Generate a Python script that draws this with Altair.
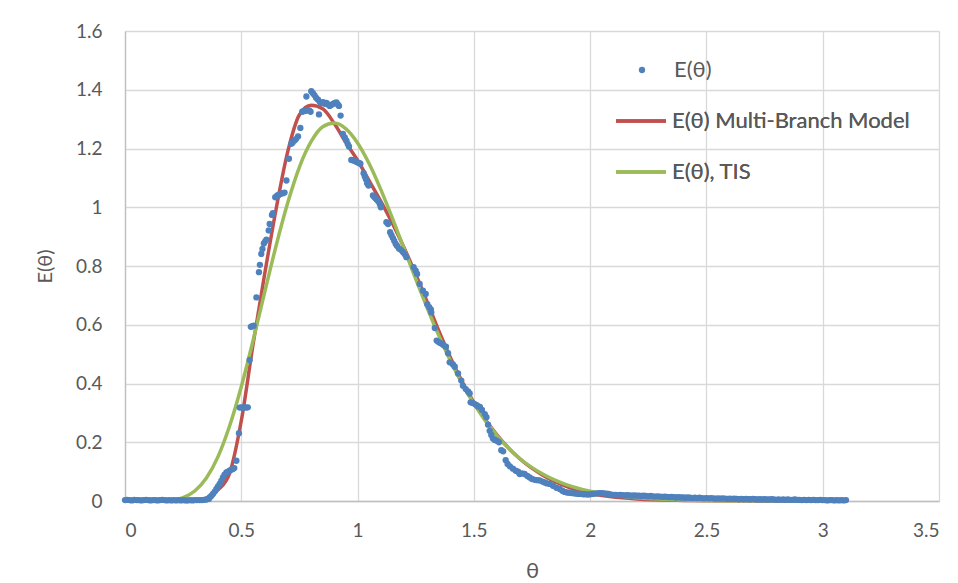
import altair as alt
import pandas as pd

BLUE = "#4F81BD"
RED = "#C0504D"
GREEN = "#9BBB59"
TXT = "#595959"
FONT = "Lato"

LBL_PTS = "E(θ)"
LBL_RED = "E(θ) Multi-Branch Model"
LBL_GRN = "E(θ), TIS"

# ---- measured E(theta): baseline segment ----
base_theta = [0.00, 0.01, 0.02, 0.03, 0.04, 0.05, 0.06, 0.07, 0.08, 0.09,
              0.10, 0.11, 0.12, 0.13, 0.14, 0.15, 0.16, 0.17, 0.18, 0.19,
              0.20, 0.21, 0.22, 0.23, 0.24, 0.25, 0.26, 0.27, 0.28, 0.29,
              0.30, 0.31, 0.32, 0.33, 0.34, 0.35]
base_E = [0.003, 0.004, 0.003, 0.002, 0.004, 0.003, 0.003, 0.002, 0.003, 0.004,
          0.003, 0.002, 0.003, 0.003, 0.002, 0.003, 0.004, 0.003, 0.002, 0.003,
          0.002, 0.003, 0.002, 0.003, 0.002, 0.003, 0.002, 0.002, 0.003, 0.002,
          0.003, 0.003, 0.003, 0.003, 0.004, 0.005]

# ---- measured E(theta): peak segment ----
peak_theta = [0.360, 0.364, 0.371, 0.378, 0.386, 0.393, 0.400, 0.407, 0.414, 0.421,
              0.428, 0.436, 0.443, 0.450, 0.457, 0.464, 0.470, 0.479, 0.490, 0.493,
              0.500, 0.507, 0.514, 0.521, 0.528, 0.536, 0.541, 0.547, 0.553, 0.565,
              0.576, 0.580, 0.586, 0.591, 0.597, 0.603, 0.608, 0.618, 0.622, 0.632,
              0.636, 0.646, 0.655, 0.661, 0.667, 0.673, 0.679, 0.686, 0.694, 0.705,
              0.715, 0.720, 0.729, 0.735, 0.744, 0.754, 0.762, 0.768, 0.774, 0.780,
              0.785, 0.792, 0.798, 0.801, 0.808, 0.815, 0.822, 0.830, 0.834, 0.838,
              0.844, 0.852, 0.859, 0.866, 0.873, 0.880, 0.887, 0.895, 0.902, 0.909,
              0.915, 0.920, 0.927, 0.937, 0.945, 0.952, 0.958, 0.963, 0.973, 0.979,
              0.986, 0.994, 1.001, 1.008, 1.012, 1.026, 1.031, 1.036, 1.041, 1.047,
              1.066, 1.072, 1.078, 1.084, 1.090, 1.096, 1.100, 1.124, 1.131, 1.140,
              1.146, 1.152, 1.158, 1.164, 1.170, 1.178, 1.186, 1.195, 1.203, 1.210,
              1.241, 1.250, 1.256, 1.267, 1.281, 1.293, 1.300, 1.308, 1.315, 1.317,
              1.332, 1.340, 1.347, 1.355, 1.362, 1.370, 1.380, 1.389, 1.396, 1.410,
              1.418, 1.432, 1.446, 1.453, 1.465, 1.475, 1.482, 1.486, 1.495, 1.504,
              1.512, 1.519, 1.526, 1.535, 1.547, 1.554, 1.561, 1.568, 1.575, 1.582,
              1.590, 1.598, 1.608, 1.618, 1.626, 1.637, 1.645, 1.655, 1.668, 1.680,
              1.690, 1.697, 1.707, 1.718, 1.730, 1.740, 1.750, 1.762, 1.772, 1.783,
              1.795, 1.805, 1.815, 1.826, 1.840, 1.855, 1.869, 1.880, 1.890, 1.900]
peak_E = [0.007, 0.012, 0.017, 0.024, 0.032, 0.041, 0.050, 0.058, 0.068, 0.080,
          0.090, 0.097, 0.100, 0.103, 0.107, 0.109, 0.112, 0.137, 0.231, 0.318,
          0.319, 0.318, 0.319, 0.318, 0.319, 0.480, 0.593, 0.595, 0.597, 0.693,
          0.779, 0.804, 0.841, 0.858, 0.877, 0.884, 0.890, 0.921, 0.943, 0.974,
          0.980, 1.034, 1.040, 1.042, 1.045, 1.047, 1.048, 1.050, 1.091, 1.165,
          1.216, 1.220, 1.227, 1.232, 1.241, 1.270, 1.325, 1.327, 1.328, 1.377,
          1.330, 1.330, 1.325, 1.395, 1.388, 1.381, 1.372, 1.366, 1.316, 1.358,
          1.355, 1.358, 1.352, 1.355, 1.350, 1.345, 1.348, 1.352, 1.355, 1.357,
          1.350, 1.345, 1.312, 1.250, 1.238, 1.227, 1.215, 1.207, 1.161, 1.160,
          1.158, 1.155, 1.152, 1.150, 1.148, 1.116, 1.105, 1.095, 1.082, 1.074,
          1.040, 1.035, 1.030, 1.025, 1.020, 1.010, 1.000, 0.949, 0.943, 0.915,
          0.905, 0.895, 0.885, 0.875, 0.868, 0.860, 0.855, 0.848, 0.840, 0.830,
          0.796, 0.784, 0.773, 0.739, 0.716, 0.705, 0.670, 0.660, 0.652, 0.642,
          0.589, 0.546, 0.542, 0.538, 0.535, 0.530, 0.525, 0.503, 0.472, 0.465,
          0.457, 0.434, 0.410, 0.392, 0.381, 0.373, 0.366, 0.336, 0.334, 0.330,
          0.326, 0.322, 0.320, 0.310, 0.296, 0.285, 0.260, 0.239, 0.225, 0.213,
          0.208, 0.205, 0.200, 0.173, 0.169, 0.139, 0.126, 0.118, 0.110, 0.103,
          0.100, 0.092, 0.094, 0.092, 0.085, 0.080, 0.075, 0.072, 0.071, 0.070,
          0.066, 0.063, 0.060, 0.058, 0.052, 0.045, 0.041, 0.035, 0.031, 0.029]

# ---- measured E(theta): tail segment ----
tail_theta = [1.91, 1.92, 1.93, 1.94, 1.95, 1.96, 1.97, 1.98, 1.99, 2.00,
              2.01, 2.02, 2.03, 2.04, 2.05, 2.06, 2.07, 2.08, 2.09, 2.10,
              2.11, 2.12, 2.13, 2.14, 2.15, 2.16, 2.17, 2.18, 2.19, 2.20,
              2.21, 2.22, 2.23, 2.24, 2.25, 2.26, 2.27, 2.28, 2.29, 2.30,
              2.31, 2.32, 2.33, 2.34, 2.35, 2.36, 2.37, 2.38, 2.39, 2.40,
              2.41, 2.42, 2.43, 2.44, 2.45, 2.46, 2.47, 2.48, 2.49, 2.50,
              2.51, 2.52, 2.53, 2.54, 2.55, 2.56, 2.57, 2.58, 2.59, 2.60,
              2.61, 2.62, 2.63, 2.64, 2.65, 2.66, 2.67, 2.68, 2.69, 2.70,
              2.71, 2.72, 2.73, 2.74, 2.75, 2.76, 2.77, 2.78, 2.79, 2.80,
              2.81, 2.82, 2.83, 2.84, 2.85, 2.86, 2.87, 2.88, 2.89, 2.90,
              2.91, 2.92, 2.93, 2.94, 2.95, 2.96, 2.97, 2.98, 2.99, 3.00,
              3.01, 3.02, 3.03, 3.04, 3.05, 3.06, 3.07, 3.08, 3.09, 3.10]
tail_E = [0.028, 0.027, 0.026, 0.025, 0.024, 0.024, 0.023, 0.023, 0.022, 0.023,
          0.024, 0.025, 0.026, 0.027, 0.027, 0.026, 0.025, 0.024, 0.022, 0.021,
          0.021, 0.020, 0.021, 0.020, 0.019, 0.020, 0.019, 0.018, 0.019, 0.018,
          0.018, 0.017, 0.018, 0.017, 0.016, 0.017, 0.016, 0.015, 0.016, 0.015,
          0.014, 0.015, 0.014, 0.013, 0.014, 0.013, 0.012, 0.013, 0.012, 0.012,
          0.011, 0.012, 0.011, 0.010, 0.011, 0.010, 0.011, 0.010, 0.009, 0.010,
          0.009, 0.010, 0.009, 0.008, 0.009, 0.008, 0.009, 0.008, 0.007, 0.008,
          0.007, 0.008, 0.007, 0.006, 0.007, 0.006, 0.007, 0.006, 0.006, 0.007,
          0.006, 0.005, 0.006, 0.005, 0.006, 0.005, 0.005, 0.006, 0.005, 0.004,
          0.005, 0.004, 0.005, 0.004, 0.005, 0.004, 0.004, 0.005, 0.004, 0.004,
          0.003, 0.004, 0.003, 0.004, 0.003, 0.004, 0.003, 0.003, 0.004, 0.003,
          0.003, 0.002, 0.003, 0.003, 0.002, 0.003, 0.002, 0.003, 0.002, 0.003]

# ---- model curves ----
model_theta = [0.00, 0.05, 0.10, 0.15, 0.20, 0.25, 0.30, 0.35, 0.40, 0.45,
               0.50, 0.55, 0.60, 0.65, 0.70, 0.75, 0.80, 0.85, 0.90, 0.95,
               1.00, 1.05, 1.10, 1.15, 1.20, 1.25, 1.30, 1.35, 1.40, 1.45,
               1.50, 1.60, 1.70, 1.80, 1.90, 2.00, 2.20, 2.40, 2.60, 2.80,
               3.00, 3.10]
red_E = [0.000, 0.000, 0.000, 0.000, 0.000, 0.000, 0.002, 0.010, 0.038, 0.095,
         0.273, 0.530, 0.770, 0.995, 1.190, 1.315, 1.347, 1.335, 1.285, 1.220,
         1.160, 1.090, 1.020, 0.945, 0.862, 0.772, 0.676, 0.578, 0.487, 0.406,
         0.336, 0.224, 0.142, 0.086, 0.049, 0.026, 0.007, 0.002, 0.0005, 0.000,
         0.000, 0.000]
tis_E = [0.000, 0.000, 0.000, 0.0004, 0.0028, 0.0116, 0.034, 0.078, 0.151, 0.256,
         0.389, 0.544, 0.709, 0.870, 1.016, 1.137, 1.223, 1.274, 1.287, 1.267,
         1.219, 1.148, 1.060, 0.962, 0.859, 0.756, 0.656, 0.562, 0.476, 0.399,
         0.331, 0.222, 0.143, 0.090, 0.055, 0.033, 0.011, 0.0035, 0.001, 0.0003,
         0.0001, 0.000]

pts_theta = base_theta + peak_theta + tail_theta
pts_E = base_E + peak_E + tail_E
df_pts = pd.DataFrame({"theta": pts_theta, "E": pts_E, "series": LBL_PTS})
df_red = pd.DataFrame({"theta": model_theta, "E": red_E, "series": LBL_RED})
df_grn = pd.DataFrame({"theta": model_theta, "E": tis_E, "series": LBL_GRN})

x_enc = alt.X(
    "theta:Q",
    scale=alt.Scale(domain=[0, 3.5], nice=False, zero=False),
    axis=alt.Axis(
        values=[0, 0.5, 1, 1.5, 2, 2.5, 3, 3.5], format="~g", title="θ",
        labelPadding=20, titlePadding=20, titleFontSize=22,
    ),
)
y_enc = alt.Y(
    "E:Q",
    scale=alt.Scale(domain=[0, 1.6], nice=False),
    axis=alt.Axis(
        values=[0, 0.2, 0.4, 0.6, 0.8, 1, 1.2, 1.4, 1.6], format="~g", title="E(θ)",
        labelPadding=23, titlePadding=20, titleFontSize=20,
    ),
)

line_color = alt.Color(
    "series:N",
    scale=alt.Scale(domain=[LBL_RED, LBL_GRN], range=[RED, GREEN]),
    legend=alt.Legend(
        title=None, orient="none", legendX=489, legendY=63,
        symbolType="stroke", symbolSize=2500, symbolStrokeWidth=3.5,
        labelOffset=4, rowPadding=13, padding=0, labelLimit=0,
        labelFont=FONT, labelFontSize=22, labelColor=TXT,
    ),
)
pts_color = alt.Color(
    "series:N",
    scale=alt.Scale(domain=[LBL_PTS], range=[BLUE]),
    legend=alt.Legend(
        title=None, orient="none", legendX=506, legendY=28,
        symbolType="circle", symbolSize=40, labelOffset=21, padding=0, labelLimit=0,
        labelFont=FONT, labelFontSize=22, labelColor=TXT,
    ),
)

red_line = alt.Chart(df_red).mark_line(strokeWidth=3.5, interpolate="monotone").encode(
    x=x_enc, y=y_enc, color=line_color)
grn_line = alt.Chart(df_grn).mark_line(strokeWidth=3.5, interpolate="monotone").encode(
    x=x_enc, y=y_enc, color=line_color)
points = alt.Chart(df_pts).mark_circle(size=40, opacity=1).encode(
    x=x_enc, y=y_enc, color=pts_color)

chart = alt.layer(red_line, grn_line, points).resolve_scale(
    color="independent"
).resolve_legend(color="independent").properties(
    width=814, height=470,
    padding={"left": 125, "top": 31, "right": 19, "bottom": 82},
    autosize="none",
    background="white",
).configure_view(stroke=None).configure_axis(
    labelFont=FONT, titleFont=FONT, labelFontSize=19, labelColor=TXT, titleColor=TXT,
    titleFontWeight="normal", grid=True, gridColor="#D9D9D9", gridWidth=1.3,
    domainColor="#BFBFBF", domainWidth=1.3, ticks=False,
)

chart.save("out.html", embed_options={"renderer": "svg", "actions": False})
